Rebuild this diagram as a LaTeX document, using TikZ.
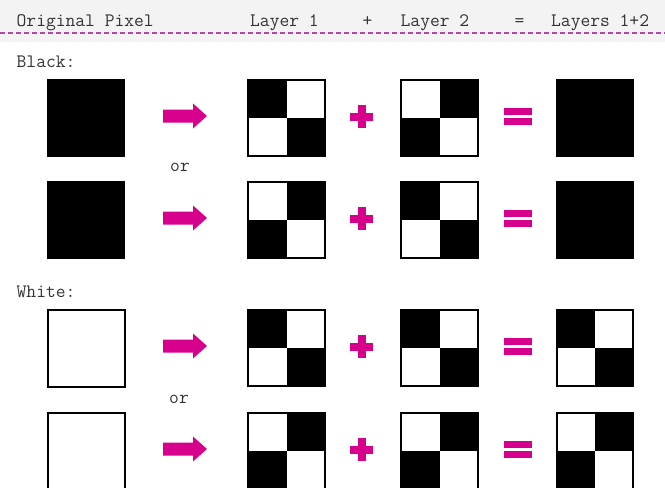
\documentclass[tikz,border=0pt]{standalone}
\usepackage{fontspec}
\usetikzlibrary{calc}
\definecolor{mag}{RGB}{214,0,140}
\definecolor{dashc}{RGB}{176,70,168}
\definecolor{hdr}{RGB}{243,243,243}
\newcommand\whiteTRBL[1]{%
  \fill[white] (#1.center) rectangle ([shift={(-1.3,1.3)}]#1.north east);
  \fill[white] (#1.center) rectangle ([shift={(1.3,-1.3)}]#1.south west);}
\newcommand\whiteTLBR[1]{%
  \fill[white] (#1.center) rectangle ([shift={(1.3,1.3)}]#1.north west);
  \fill[white] (#1.center) rectangle ([shift={(-1.3,-1.3)}]#1.south east);}
\begin{document}
\begin{tikzpicture}[x=1pt,y=-1pt,
  lbl/.style={font=\ttfamily\fontsize{19}{21}\selectfont, anchor=base west, inner sep=0pt, text=black!80},
  clbl/.style={lbl, anchor=base},
  orlbl/.style={font=\ttfamily\fontsize{19}{21}\selectfont, anchor=center, inner sep=0pt, text=black!80},
  pix/.style={minimum size=77pt, inner sep=0pt, outer sep=0pt, draw=black, line width=1.5pt},
  blk/.style={pix, fill=black},
  wht/.style={pix, fill=white, line width=2pt},
  marrow/.pic={\fill[mag] (-22,-6.5) -- (8,-6.5) -- (8,-12.5) -- (22,0) -- (8,12.5) -- (8,6.5) -- (-22,6.5) -- cycle;},
  mplus/.pic={\fill[mag] (-4,-11.5) rectangle (4,11.5); \fill[mag] (-11.5,-4) rectangle (11.5,4);},
  mequals/.pic={\fill[mag] (-14,-8.5) rectangle (14,-1.5); \fill[mag] (-14,1.5) rectangle (14,8.5);}
]
\useasboundingbox (0,0) rectangle (665,488);
\fill[hdr] (0,0) rectangle (665,42);
\draw[dashc, line width=1.2pt, dash pattern=on 5pt off 3pt] (0,33) -- (665,33);

% header
\node[lbl] (hOrig) at (16.5,26.5) {Original Pixel};
\node[lbl] (hL1) at (250,26.5) {Layer 1};
\node[clbl] (hPlus) at (367.5,26.5) {+};
\node[lbl] (hL2) at (400.5,26.5) {Layer 2};
\node[clbl] (hEq) at (519.5,26.5) {=};
\node[lbl] (hRes) at (551,26.5) {Layers 1+2};

\node[lbl] (black) at (16.5,67.3) {Black:};
\node[lbl] (white) at (16.5,297.5) {White:};
\node[orlbl] (or1) at (180,167) {or};
\node[orlbl] (or2) at (179,399) {or};

% row 1 (y=118)
\node[blk] (o1) at (86,118) {};
\pic at (185,116) {marrow};
\node[blk] (a1) at (286.5,118) {}; \whiteTRBL{a1}
\pic at (361.5,116.5) {mplus};
\node[blk] (b1) at (439.5,118) {}; \whiteTLBR{b1}
\pic at (518,116.5) {mequals};
\node[blk] (r1) at (595,118) {};

% row 2 (y=220)
\node[blk] (o2) at (86,220) {};
\pic at (185,218) {marrow};
\node[blk] (a2) at (286.5,220) {}; \whiteTLBR{a2}
\pic at (361.5,218.5) {mplus};
\node[blk] (b2) at (439.5,220) {}; \whiteTRBL{b2}
\pic at (518,218.5) {mequals};
\node[blk] (r2) at (595,220) {};

% row 3 (y=348)
\node[wht] (o3) at (86,348) {};
\pic at (185,346) {marrow};
\node[blk] (a3) at (286.5,348) {}; \whiteTRBL{a3}
\pic at (361.5,346.5) {mplus};
\node[blk] (b3) at (439.5,348) {}; \whiteTRBL{b3}
\pic at (518,346.5) {mequals};
\node[blk] (r3) at (595,348) {}; \whiteTRBL{r3}

% row 4 (y=451)
\node[wht] (o4) at (86,451) {};
\pic at (185,449) {marrow};
\node[blk] (a4) at (286.5,451) {}; \whiteTLBR{a4}
\pic at (361.5,449.5) {mplus};
\node[blk] (b4) at (439.5,451) {}; \whiteTLBR{b4}
\pic at (518,449.5) {mequals};
\node[blk] (r4) at (595,451) {}; \whiteTLBR{r4}
\end{tikzpicture}
\end{document}
